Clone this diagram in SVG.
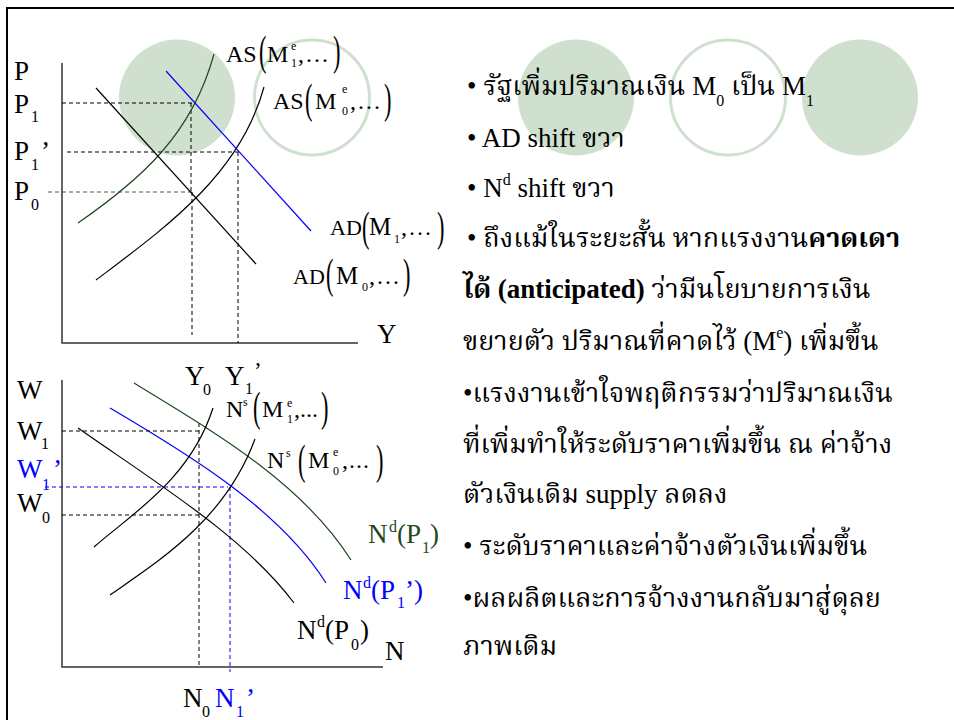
<svg xmlns="http://www.w3.org/2000/svg" width="954" height="720" viewBox="0 0 954 720">
<style>
text{font-family:"Liberation Serif","Noto Serif Thai","Noto Sans Thai",serif;fill:#000}
.t{font-size:27px}
.s{font-size:24px}
.a{font-size:22px}
.m{font-size:25px}
.sub{font-size:16px}
.ss{font-size:12px}
.par{font-size:28px}
.ax{stroke:#333;stroke-width:1.5;fill:none}
.c{fill:none;stroke-width:1.2}
.blk{stroke:#000}
.grn{stroke:#1e4a1e}
.blu{stroke:#0000ff}
.d{fill:none;stroke:#000;stroke-width:1;stroke-dasharray:4 3}
.db{fill:none;stroke:#0000ff;stroke-width:1;stroke-dasharray:4 3}
.bg{fill:#d0e0cf}
.bgo{fill:none;stroke:#d0e0cf;stroke-width:3}
.B{font-weight:bold}
.g{fill:#1e4a1e}
.b{fill:#0000ff}
</style>
<rect width="954" height="720" fill="#fff"/>
<g id="decor">
<circle class="bg" cx="177" cy="97.5" r="58"/>
<circle class="bgo" cx="312" cy="97.5" r="57.5"/>
<circle class="bg" cx="576" cy="97.5" r="58"/>
<circle class="bgo" cx="728" cy="97.5" r="57.5"/>
<circle class="bg" cx="860" cy="97.5" r="58"/>
<path d="M7,720 V8 H954" fill="none" stroke="#000" stroke-width="2"/>
</g>
<g id="top-graph">
<path class="ax" d="M62,63 V343 H358"/>
<path class="d" d="M62,103 H195 M191,103 V192 M192,192 V335 M67,152 H238 M238,152 V343"/>
<path class="d" style="stroke:#555" d="M48,192 H192"/>
<path class="c grn" d="M78,223 C140,180 192,135 214,54"/>
<path class="c blk" d="M96,280 C165,228 240,175 264,87"/>
<path class="c blk" d="M96,88 L256,264"/>
<path class="c blu" d="M166,71 L311,231"/>
<text class="t" x="14" y="80">P</text>
<text class="t" x="14" y="113">P</text><text class="sub" x="31" y="122">1</text>
<text class="t" x="14" y="160">P</text><text class="sub" x="31" y="170">1</text><text class="t" x="41" y="160">’</text>
<text class="t" x="14" y="200">P</text><text class="sub" x="31" y="210">0</text>
<text class="t" x="377" y="343">Y</text>
<g id="lbl-as1"><text class="s" x="226" y="62">AS</text><text class="par" transform="translate(259,64.5) scale(0.8,1.5)">(</text><text class="s" x="267" y="62">M</text><text class="ss" x="291" y="50">e</text><text class="ss" x="291" y="67">1</text><text class="s" x="298" y="62" letter-spacing="2">,...</text><text class="par" transform="translate(333,64.5) scale(0.8,1.5)">)</text></g>
<g id="lbl-as0"><text class="s" x="273" y="109">AS</text><text class="par" transform="translate(305,113) scale(0.8,1.5)">(</text><text class="s" x="315" y="109">M</text><text class="ss" x="342" y="93">e</text><text class="ss" x="342" y="115">0</text><text class="s" x="350" y="109" letter-spacing="2">,...</text><text class="par" transform="translate(384,113) scale(0.8,1.5)">)</text></g>
<g id="lbl-ad1"><text class="a" x="330" y="235">AD</text><text class="par" transform="translate(362,241) scale(0.8,1.5)">(</text><text class="m" x="369" y="235">M</text><text class="ss" x="394" y="243">1</text><text class="s" x="401" y="235" letter-spacing="2">,...</text><text class="par" transform="translate(437,241) scale(0.8,1.5)">)</text></g>
<g id="lbl-ad0"><text class="a" x="293" y="284">AD</text><text class="par" transform="translate(326,288) scale(0.8,1.5)">(</text><text class="m" x="336" y="284">M</text><text class="ss" x="362" y="291">0</text><text class="s" x="369" y="284" letter-spacing="2">,...</text><text class="par" transform="translate(403,288) scale(0.8,1.5)">)</text></g>
</g>
<g id="bottom-graph">
<path class="ax" d="M62,380 V667 H383"/>
<path class="d" d="M62,431 H202 M199,423 V667 M62,515 H200"/>
<path class="db" d="M45,487 H228 M230,487 V672"/>
<path class="c grn" d="M134,383 C210,430 300,480 351,560"/>
<path class="c blu" d="M110,408 C190,455 280,510 326,583"/>
<path class="c blk" d="M78,428 C155,482 245,537 294,603"/>
<path class="c blk" d="M94,547 C130,515 190,480 213,408"/>
<path class="c blk" d="M110,595 C160,560 225,520 255,439"/>
<text class="t" x="17" y="399">W</text>
<text class="t" x="17" y="440">W</text><text class="sub" x="41" y="449">1</text>
<text class="t b" x="17" y="478">W</text><text class="sub b" x="42" y="490">1</text><text class="t b" x="53" y="478">’</text>
<text class="t" x="17" y="512">W</text><text class="sub" x="42" y="523">0</text>
<text class="t" x="185" y="385">Y</text><text class="sub" x="203" y="395">0</text>
<text class="t" x="225" y="385">Y</text><text class="sub" x="245" y="394">1</text><text x="254" y="378" font-size="23">’</text>
<text class="t" x="385" y="660">N</text>
<text class="t" x="183" y="707">N</text><text class="sub" x="202" y="717">0</text>
<text class="t b" x="215" y="707">N</text><text class="sub b" x="236" y="717">1</text><text class="t b" x="246" y="707">’</text>
<g id="lbl-ns1"><text class="s" x="226" y="417">N</text><text class="ss" x="243" y="406">s</text><text class="par" transform="translate(253,421) scale(0.8,1.5)">(</text><text class="s" x="262" y="417">M</text><text class="ss" x="287" y="407">e</text><text class="ss" x="287" y="423">1</text><text class="s" x="294" y="417">,...</text><text class="par" transform="translate(321,421) scale(0.8,1.5)">)</text></g>
<g id="lbl-ns0"><text class="s" x="267" y="468">N</text><text class="ss" x="286" y="457">s</text><text class="par" transform="translate(298,474) scale(0.8,1.5)">(</text><text class="s" x="308" y="468">M</text><text class="ss" x="333" y="456">e</text><text class="ss" x="333" y="475">0</text><text class="s" x="342" y="468" letter-spacing="1">,...</text><text class="par" transform="translate(376,474) scale(0.8,1.5)">)</text></g>
<g id="lbl-ndp1"><text class="t g" x="368" y="543">N</text><text class="sub g" x="389" y="532">d</text><text class="t g" x="397" y="543">(P</text><text class="sub g" x="422" y="553">1</text><text class="t g" x="430" y="543">)</text></g>
<g id="lbl-ndp1p"><text class="t b" x="343" y="599">N</text><text class="sub b" x="363" y="588">d</text><text class="t b" x="371" y="599">(P</text><text class="sub b" x="397" y="608">1</text><text class="t b" x="405" y="599">’)</text></g>
<g id="lbl-ndp0"><text class="t" x="297" y="639">N</text><text class="sub" x="317" y="627">d</text><text class="t" x="325" y="639">(P</text><text class="sub" x="351" y="650">0</text><text class="t" x="360" y="639">)</text></g>
</g>
<g id="bullets">
<text class="t" x="467" y="95">• รัฐเพิ่มปริมาณเงิน M<tspan class="sub" dy="11">0</tspan><tspan dy="-11"> เป็น M</tspan><tspan class="sub" dy="11">1</tspan></text>
<text class="t" x="467" y="147">• AD shift ขวา</text>
<text class="t" x="467" y="197">• N<tspan class="sub" dy="-12">d</tspan><tspan dy="12"> shift ขวา</tspan></text>
<text class="t" x="467" y="247">• ถึงแม้ในระยะสั้น หากแรงงาน<tspan class="B">คาดเดา</tspan></text>
<text class="t" x="463" y="298"><tspan class="B">ได้ (anticipated)</tspan> ว่ามีนโยบายการเงิน</text>
<text class="t" x="463" y="350">ขยายตัว ปริมาณที่คาดไว้ (M<tspan class="sub" dy="-12">e</tspan><tspan dy="12">) เพิ่มขึ้น</tspan></text>
<text class="t" x="463" y="402">•แรงงานเข้าใจพฤติกรรมว่าปริมาณเงิน</text>
<text class="t" x="463" y="453">ที่เพิ่มทำให้ระดับราคาเพิ่มขึ้น ณ ค่าจ้าง</text>
<text class="t" x="463" y="503">ตัวเงินเดิม supply ลดลง</text>
<text class="t" x="463" y="555">• ระดับราคาและค่าจ้างตัวเงินเพิ่มขึ้น</text>
<text class="t" x="463" y="607">•ผลผลิตและการจ้างงานกลับมาสู่ดุลย</text>
<text class="t" x="463" y="655">ภาพเดิม</text>
</g>
</svg>
